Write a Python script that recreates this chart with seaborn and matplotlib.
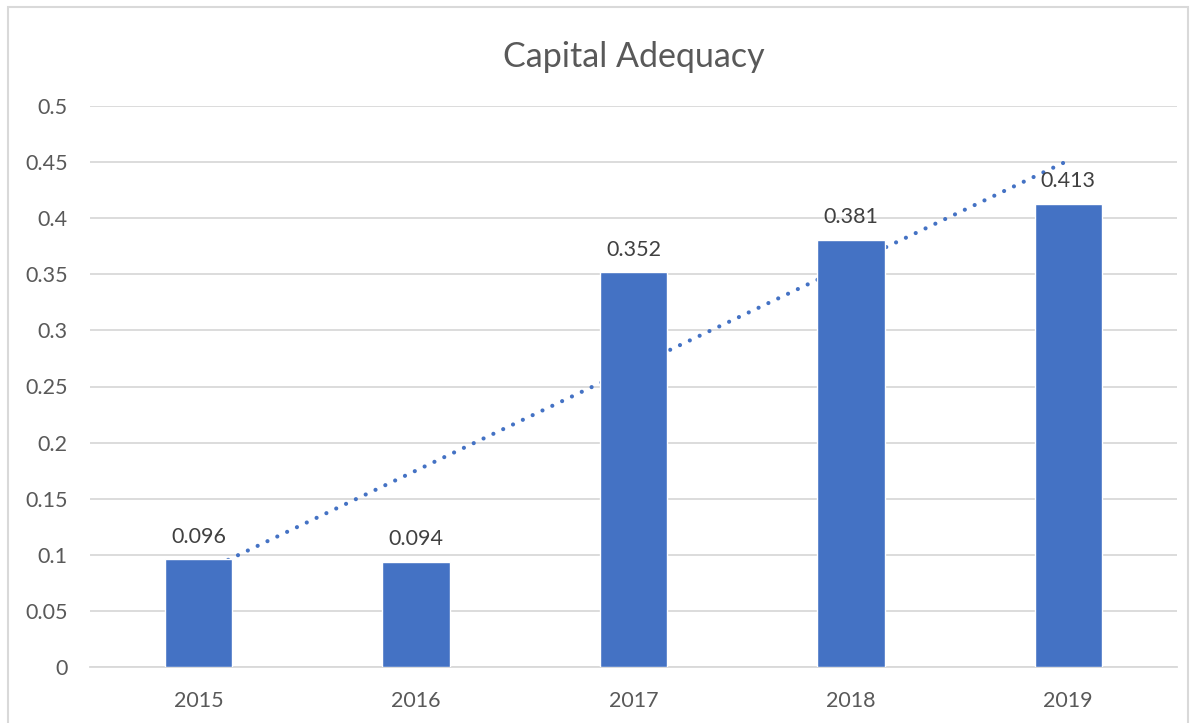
import numpy as np
import pandas as pd
import matplotlib
matplotlib.use("Agg")
import matplotlib.pyplot as plt
import seaborn as sns
from matplotlib.patches import Rectangle

# chart data
years = ["2015", "2016", "2017", "2018", "2019"]
values = [0.096, 0.094, 0.352, 0.381, 0.413]
y_ticks = [0, 0.05, 0.1, 0.15, 0.2, 0.25, 0.3, 0.35, 0.4, 0.45, 0.5]
y_tick_labels = ["0", "0.05", "0.1", "0.15", "0.2", "0.25", "0.3", "0.35", "0.4", "0.45", "0.5"]

BAR = "#4472C4"
TEXT = "#595959"
GRID = "#D9D9D9"

sns.set_theme(style="white")
plt.rcParams["font.family"] = ["Lato", "DejaVu Sans"]

df = pd.DataFrame({"Year": years, "Value": values})

fig = plt.figure(figsize=(11.96, 7.23), dpi=100)
fig.patches.append(Rectangle((8 / 1196, -0.01), (1188 - 8) / 1196, 1 - 7 / 723 + 0.01,
                             transform=fig.transFigure, fill=False,
                             edgecolor=GRID, linewidth=1.5))
ax = fig.add_axes([90 / 1196, (723 - 667) / 723, (1177 - 90) / 1196, (667 - 106) / 723])

sns.barplot(data=df, x="Year", y="Value", color=BAR, width=0.31,
            saturation=1, ax=ax, zorder=3)

# linear trendline (round dots) behind the bars
xs = np.arange(len(values))
slope, intercept = np.polyfit(xs, values, 1)
ax.plot(xs, slope * xs + intercept, linestyle=(0, (0.01, 2.6)), linewidth=3.0,
        color=BAR, dash_capstyle="round", zorder=2)

for i, v in enumerate(values):
    ax.annotate(f"{v:.3f}", (i, v), xytext=(0, 9), textcoords="offset points",
                ha="center", va="bottom", fontsize=15.5, color="#404040", zorder=4)

ax.set_xlim(-0.5, len(years) - 0.5)
ax.set_ylim(0, 0.5)
ax.set_yticks(y_ticks)
ax.set_yticklabels(y_tick_labels, ha="right")
ax.yaxis.grid(True, color=GRID, linewidth=1.3)
ax.set_axisbelow(True)
for s in ["top", "right", "left"]:
    ax.spines[s].set_visible(False)
ax.spines["bottom"].set_color(GRID)
ax.spines["bottom"].set_linewidth(1.3)
ax.tick_params(axis="both", length=0, labelsize=15.5, labelcolor=TEXT)
ax.tick_params(axis="x", pad=17)
ax.tick_params(axis="y", pad=16)
ax.set_xlabel("")
ax.set_ylabel("")
ax.set_title("Capital Adequacy", fontsize=24.5, color=TEXT, pad=28)

fig.savefig("out.png", dpi=100)
